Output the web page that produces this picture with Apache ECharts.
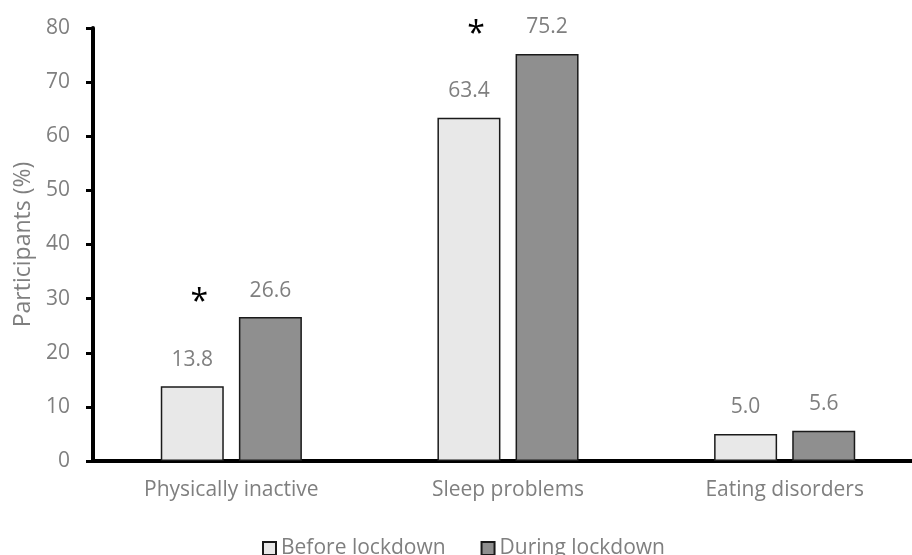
<!DOCTYPE html>
<html><head><meta charset="utf-8">
<script src="https://cdn.jsdelivr.net/npm/echarts@6/dist/echarts.min.js"></script>
<style>html,body{margin:0;padding:0;background:#fff}#c{width:912px;height:555px}</style>
</head><body><div id="c"></div>
<script>
const categories = ['Physically inactive', 'Sleep problems', 'Eating disorders'];
const beforeValues = [13.8, 63.4, 5.0];
const duringValues = [26.6, 75.2, 5.6];
const significant = [true, true, false];
const seriesNames = ['Before lockdown', 'During lockdown'];
const yTicks = [0, 10, 20, 30, 40, 50, 60, 70, 80];

const font = 'Open Sans';
const grey = '#7f7f7f';
const chart = echarts.init(document.getElementById('c'));
chart.setOption({
  animation: false,
  grid: { left: 93, top: 28, width: 830, height: 433, outerBoundsMode: 'none', containLabel: false },
  legend: {
    top: 538, left: 262, padding: 0, itemWidth: 13, itemHeight: 13, itemGap: 35,
    textStyle: { color: grey, fontFamily: font, fontSize: 21 },
    data: seriesNames.map(n => ({ name: n, icon: 'rect' }))
  },
  xAxis: {
    type: 'category', data: categories,
    axisLine: { lineStyle: { color: '#000', width: 4 } },
    axisTick: { show: false },
    axisLabel: { color: grey, fontFamily: font, fontSize: 21, margin: 19 }
  },
  yAxis: {
    type: 'value', min: yTicks[0], max: yTicks[yTicks.length - 1], interval: 10,
    name: 'Participants (%)', nameLocation: 'middle', nameGap: 58,
    nameTextStyle: { color: grey, fontFamily: font, fontSize: 23 },
    axisLine: { show: true, lineStyle: { color: '#000', width: 4 } },
    axisTick: { show: true, length: 7, lineStyle: { color: '#000', width: 3 } },
    splitLine: { show: false },
    axisLabel: { color: grey, fontFamily: font, fontSize: 21, margin: 23 }
  },
  series: [
    {
      name: seriesNames[0], type: 'bar', data: beforeValues,
      barWidth: 63, barGap: '24%',
      itemStyle: { color: '#e8e8e8', borderColor: '#1a1a1a', borderWidth: 1.5 },
      label: {
        show: true, position: 'top', distance: 16,
        formatter: p => significant[p.dataIndex] ? '{s|*}\n{v|' + p.value.toFixed(1) + '}' : '{v|' + p.value.toFixed(1) + '}',
        rich: {
          v: { color: grey, fontFamily: font, fontSize: 21, lineHeight: 21 },
          s: { color: '#000', fontFamily: font, fontSize: 32, lineHeight: 92, padding: [0, 0, 0, 14] }
        }
      }
    },
    {
      name: seriesNames[1], type: 'bar', data: duringValues,
      barWidth: 63,
      itemStyle: { color: '#8f8f8f', borderColor: '#1a1a1a', borderWidth: 1.5 },
      label: {
        show: true, position: 'top', distance: 16,
        formatter: p => p.value.toFixed(1),
        color: grey, fontFamily: font, fontSize: 21, lineHeight: 21
      }
    }
  ]
});
</script></body></html>
